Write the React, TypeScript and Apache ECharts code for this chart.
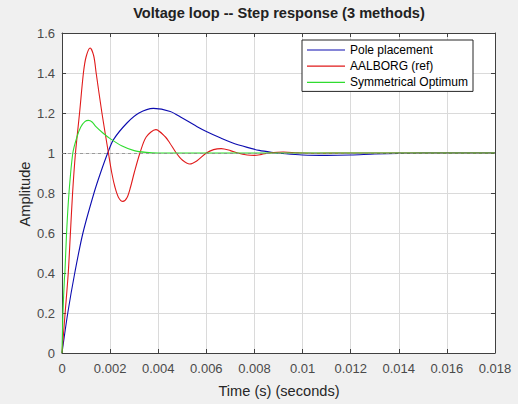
import * as React from "react";
import * as echarts from "echarts";

// Step response (time in s, amplitude).
const POLE_T = [0, 0.00024, 0.00053, 0.00087, 0.00133, 0.0016, 0.0019, 0.00214, 0.0027, 0.0032, 0.0038, 0.0045, 0.005, 0.0056, 0.006, 0.0066, 0.0071, 0.0077, 0.0082, 0.0087, 0.0093, 0.01, 0.011, 0.012, 0.013, 0.014, 0.015, 0.018];
const POLE_A = [0, 0.2, 0.4, 0.6, 0.8, 0.9, 1.0, 1.067, 1.15, 1.2, 1.223, 1.208, 1.175, 1.133, 1.108, 1.075, 1.05, 1.028, 1.013, 1.004, 0.996, 0.99, 0.988, 0.99, 0.995, 0.998, 1.0, 1.0];

const AAL_T = [0, 0.00013, 0.00026, 0.00035, 0.00044, 0.00056, 0.00073, 0.00089, 0.001, 0.00117, 0.00132, 0.00142, 0.00166, 0.00193, 0.00207, 0.0022, 0.00235, 0.00253, 0.0027, 0.00285, 0.003, 0.00324, 0.0035, 0.0039, 0.0043, 0.00448, 0.00475, 0.005, 0.00531, 0.0056, 0.006, 0.0063, 0.00662, 0.007, 0.0073, 0.0077, 0.008, 0.0083, 0.00862, 0.0092, 0.0098, 0.0105, 0.012, 0.018];
const AAL_A = [0, 0.2, 0.4, 0.6, 0.8, 1.0, 1.2, 1.4, 1.48, 1.525, 1.485, 1.4, 1.2, 1.0, 0.9, 0.83, 0.778, 0.758, 0.776, 0.83, 0.9, 1.0, 1.08, 1.117, 1.08, 1.05, 1.0, 0.965, 0.945, 0.96, 1.0, 1.017, 1.022, 1.012, 1.0, 0.99, 0.988, 0.993, 1.0, 1.005, 1.001, 0.999, 1.0, 1.0];

const SYM_T = [0, 0.00004, 0.0001, 0.00012, 0.00019, 0.00029, 0.00045, 0.00062, 0.00078, 0.00095, 0.0011, 0.00125, 0.0014, 0.0017, 0.002, 0.0025, 0.003, 0.0035, 0.004, 0.018];
const SYM_A = [0, 0.2, 0.37, 0.4, 0.6, 0.8, 1.0, 1.08, 1.13, 1.157, 1.163, 1.155, 1.133, 1.1, 1.072, 1.035, 1.012, 1.003, 1.0, 1.0];

const NAMES = ["Pole placement", "AALBORG (ref)", "Symmetrical Optimum"];
const COLORS = ["#0c0cb0", "#e01a1a", "#2fdc2f"];

const FONT = "'Liberation Sans', Arial, Helvetica, sans-serif";
const AX = "#404040";

const pairs = (t: number[], a: number[]) => t.map((x, i) => [x, a[i]]);

export default function App() {
  const ref = React.useRef<HTMLDivElement | null>(null);

  React.useEffect(() => {
    if (!ref.current) return;
    const chart = echarts.init(ref.current, undefined, { renderer: "svg" });
    const tickLabel = { color: "#4a4a4a", fontSize: 13, fontFamily: FONT };
    const baseX = { type: "value", min: 0, max: 0.018, interval: 0.002 };
    const baseY = { type: "value", min: 0, max: 1.6, interval: 0.2 };
    const line = { show: true, onZero: false, lineStyle: { color: AX, width: 1 } };
    const tick = { show: true, inside: true, length: 4, lineStyle: { color: AX } };

    chart.setOption({
      animation: false,
      backgroundColor: "#f0f0f0",
      textStyle: { fontFamily: FONT },
      grid: {
        left: 62, right: 23, top: 33, bottom: 51,
        show: true, backgroundColor: "#ffffff", borderWidth: 0,
        outerBoundsMode: "none",
      },
      graphic: [
        {
          type: "text", x: 279, y: 13,
          style: {
            text: "Voltage loop -- Step response (3 methods)",
            fill: "#222", font: `bold 14.6px ${FONT}`,
            textAlign: "center", textVerticalAlign: "middle",
          },
        },
        {
          type: "text", x: 279, y: 391,
          style: {
            text: "Time (s) (seconds)", fill: "#262626", font: `14.6px ${FONT}`,
            textAlign: "center", textVerticalAlign: "middle",
          },
        },
        {
          type: "text", x: 25, y: 194, rotation: Math.PI / 2,
          style: {
            text: "Amplitude", fill: "#262626", font: `14.6px ${FONT}`,
            textAlign: "center", textVerticalAlign: "middle",
          },
        },
      ],
      legend: {
        data: NAMES,
        orient: "vertical",
        left: 302, top: 40,
        padding: [4, 5, 3, 5],
        icon: "rect",
        itemWidth: 38, itemHeight: 1.2, itemGap: 4.2,
        backgroundColor: "#ffffff",
        borderColor: "#262626", borderWidth: 1,
        textStyle: { color: "#000", fontSize: 12, lineHeight: 12, fontFamily: FONT },
      },
      xAxis: [
        {
          ...baseX, position: "bottom",
          axisLine: line, axisTick: tick,
          axisLabel: { ...tickLabel, margin: 9, formatter: (v: number) => String(+v.toFixed(4)) },
          splitLine: { show: true, lineStyle: { color: "#dadada", width: 1 } },
        },
        {
          ...baseX, position: "top",
          axisLine: line, axisTick: tick,
          axisLabel: { show: false }, splitLine: { show: false },
        },
      ],
      yAxis: [
        {
          ...baseY, position: "left",
          axisLine: line, axisTick: tick,
          axisLabel: { ...tickLabel, margin: 7 },
          splitLine: { show: true, lineStyle: { color: "#dadada", width: 1 } },
        },
        {
          ...baseY, position: "right",
          axisLine: line, axisTick: tick,
          axisLabel: { show: false }, splitLine: { show: false },
        },
      ],
      series: [
        {
          name: NAMES[0], type: "line", symbol: "none", smooth: 0.3,
          data: pairs(POLE_T, POLE_A),
          lineStyle: { color: COLORS[0], width: 1.1 }, itemStyle: { color: COLORS[0] },
          markLine: {
            silent: true, symbol: "none", label: { show: false },
            lineStyle: { color: "#8a8a8a", type: [3, 3], width: 0.8 },
            data: [{ yAxis: 1 }],
          },
          z: 2,
        },
        {
          name: NAMES[1], type: "line", symbol: "none", smooth: 0.3,
          data: pairs(AAL_T, AAL_A),
          lineStyle: { color: COLORS[1], width: 1.1 }, itemStyle: { color: COLORS[1] },
          z: 3,
        },
        {
          name: NAMES[2], type: "line", symbol: "none", smooth: 0.3,
          data: pairs(SYM_T, SYM_A),
          lineStyle: { color: COLORS[2], width: 1.1 }, itemStyle: { color: COLORS[2] },
          z: 4,
        },
      ],
    });

    return () => chart.dispose();
  }, []);

  return (
    <div
      ref={ref}
      style={{ position: "fixed", left: 0, top: 0, width: 518, height: 404 }}
    />
  );
}
